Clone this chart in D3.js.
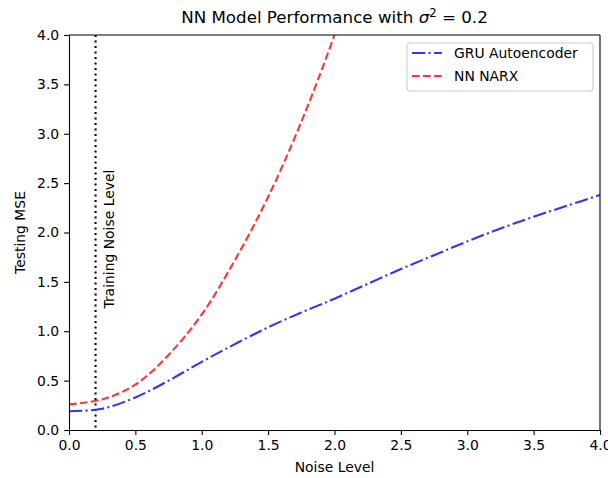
<!DOCTYPE html>
<html>
<head>
<meta charset="utf-8">
<script src="https://cdn.jsdelivr.net/npm/d3@7"></script>
<style>
  body { margin: 0; background: #fff; }
  svg text { font-family: "DejaVu Sans", sans-serif; fill: #000; }
  .axis path, .axis line { stroke: #000; stroke-width: 1.1; }
  .axis text { font-size: 13.9px; }
</style>
</head>
<body>
<svg width="608" height="478"></svg>
<script>
// values
const noise = [0, 0.25, 0.5, 0.75, 1.0, 1.25, 1.5, 1.75, 2.0, 2.25, 2.5, 2.75, 3.0, 3.25, 3.5, 3.75, 4.0];
const gruMSE = [0.19, 0.215, 0.33, 0.50, 0.69, 0.87, 1.04, 1.19, 1.33, 1.48, 1.63, 1.77, 1.91, 2.04, 2.16, 2.27, 2.38];
const narxNoise = [0, 0.25, 0.5, 0.75, 1.0, 1.25, 1.5, 1.75, 2.0, 2.25];
const narxMSE = [0.26, 0.31, 0.46, 0.76, 1.17, 1.72, 2.36, 3.12, 4.0, 5.0];
const xTicks = [0, 0.5, 1.0, 1.5, 2.0, 2.5, 3.0, 3.5, 4.0];
const yTicks = [0, 0.5, 1.0, 1.5, 2.0, 2.5, 3.0, 3.5, 4.0];
const trainNoise = 0.2;
const seriesNames = ["GRU Autoencoder", "NN NARX"];

const svg = d3.select("svg"),
    margin = {top: 35, right: 8, bottom: 48, left: 69},
    width = 600 - margin.left,
    height = 430 - margin.top;

const x = d3.scaleLinear().domain([0, 4]).range([0, width]);
const y = d3.scaleLinear().domain([0, 4]).range([height, 0]);

const g = svg.append("g")
    .attr("transform", "translate(" + margin.left + "," + margin.top + ")");

g.append("clipPath").attr("id", "clip")
  .append("rect").attr("width", width).attr("height", height);

const line = d3.line()
    .x(d => x(d[0]))
    .y(d => y(d[1]))
    .curve(d3.curveCatmullRom);

const plot = g.append("g").attr("clip-path", "url(#clip)");

// training noise marker
plot.append("line")
    .attr("x1", x(trainNoise)).attr("x2", x(trainNoise))
    .attr("y1", 0).attr("y2", height)
    .style("stroke", "#000")
    .style("stroke-width", 2.1)
    .style("stroke-dasharray", "2.1,3.4");

plot.append("path")
    .datum(noise.map((n, i) => [n, gruMSE[i]]))
    .attr("d", line)
    .style("fill", "none")
    .style("stroke", "#3333ff")
    .style("stroke-width", 2.1)
    .style("stroke-dasharray", "13.3,3.3,2.1,3.3");

plot.append("path")
    .datum(narxNoise.map((n, i) => [n, narxMSE[i]]))
    .attr("d", line)
    .style("fill", "none")
    .style("stroke", "#ff3333")
    .style("stroke-width", 2.1)
    .style("stroke-dasharray", "7.7,3.3");

g.append("text")
    .attr("transform", "translate(" + (x(0.25) + 12) + "," + y(1.23) + ") rotate(-90)")
    .style("font-size", "13.9px")
    .text("Training Noise Level");

// axes
g.append("g")
    .attr("class", "axis")
    .attr("transform", "translate(0," + height + ")")
    .call(d3.axisBottom(x).tickValues(xTicks).tickFormat(d3.format(".1f")).tickSize(4.9).tickSizeOuter(0).tickPadding(4.9));

g.append("g")
    .attr("class", "axis")
    .call(d3.axisLeft(y).tickValues(yTicks).tickFormat(d3.format(".1f")).tickSize(4.9).tickSizeOuter(0).tickPadding(4.9));

// top and right spines
g.append("line").attr("x1", 0).attr("x2", width).attr("y1", 0).attr("y2", 0)
    .style("stroke", "#000").style("stroke-width", 1.1);
g.append("line").attr("x1", width).attr("x2", width).attr("y1", 0).attr("y2", height)
    .style("stroke", "#000").style("stroke-width", 1.1);

// labels
svg.append("text")
    .attr("x", margin.left + width / 2).attr("y", 472)
    .attr("text-anchor", "middle")
    .style("font-size", "13.9px")
    .text("Noise Level");

svg.append("text")
    .attr("transform", "translate(25," + (margin.top + height / 2) + ") rotate(-90)")
    .attr("text-anchor", "middle")
    .style("font-size", "13.9px")
    .text("Testing MSE");

const title = svg.append("text")
    .attr("x", margin.left + width / 2).attr("y", 23)
    .attr("text-anchor", "middle")
    .style("font-size", "16.7px");
title.append("tspan").text("NN Model Performance with ");
title.append("tspan").style("font-style", "italic").text("\u03c3");
title.append("tspan").attr("dy", -6).style("font-size", "11.7px").text("2");
title.append("tspan").attr("dy", 6).text(" = 0.2");

// legend
const legend = svg.append("g").attr("transform", "translate(407,43)");
legend.append("rect")
    .attr("width", 186).attr("height", 48).attr("rx", 3)
    .style("fill", "#fff").style("fill-opacity", 0.8)
    .style("stroke", "#ccc").style("stroke-width", 1.1);

const styles = [
  {color: "#3333ff", dash: "13.3,3.3,2.1,3.3"},
  {color: "#ff3333", dash: "7.7,3.3"}
];
seriesNames.forEach((name, i) => {
  const row = legend.append("g").attr("transform", "translate(0," + (10 + i * 23) + ")");
  row.append("line")
      .attr("x1", 5).attr("x2", 35).attr("y1", 0).attr("y2", 0)
      .style("stroke", styles[i].color)
      .style("stroke-width", 2.1)
      .style("stroke-dasharray", styles[i].dash);
  row.append("text")
      .attr("x", 47).attr("y", 5)
      .style("font-size", "13.9px")
      .text(name);
});
</script>
</body>
</html>
